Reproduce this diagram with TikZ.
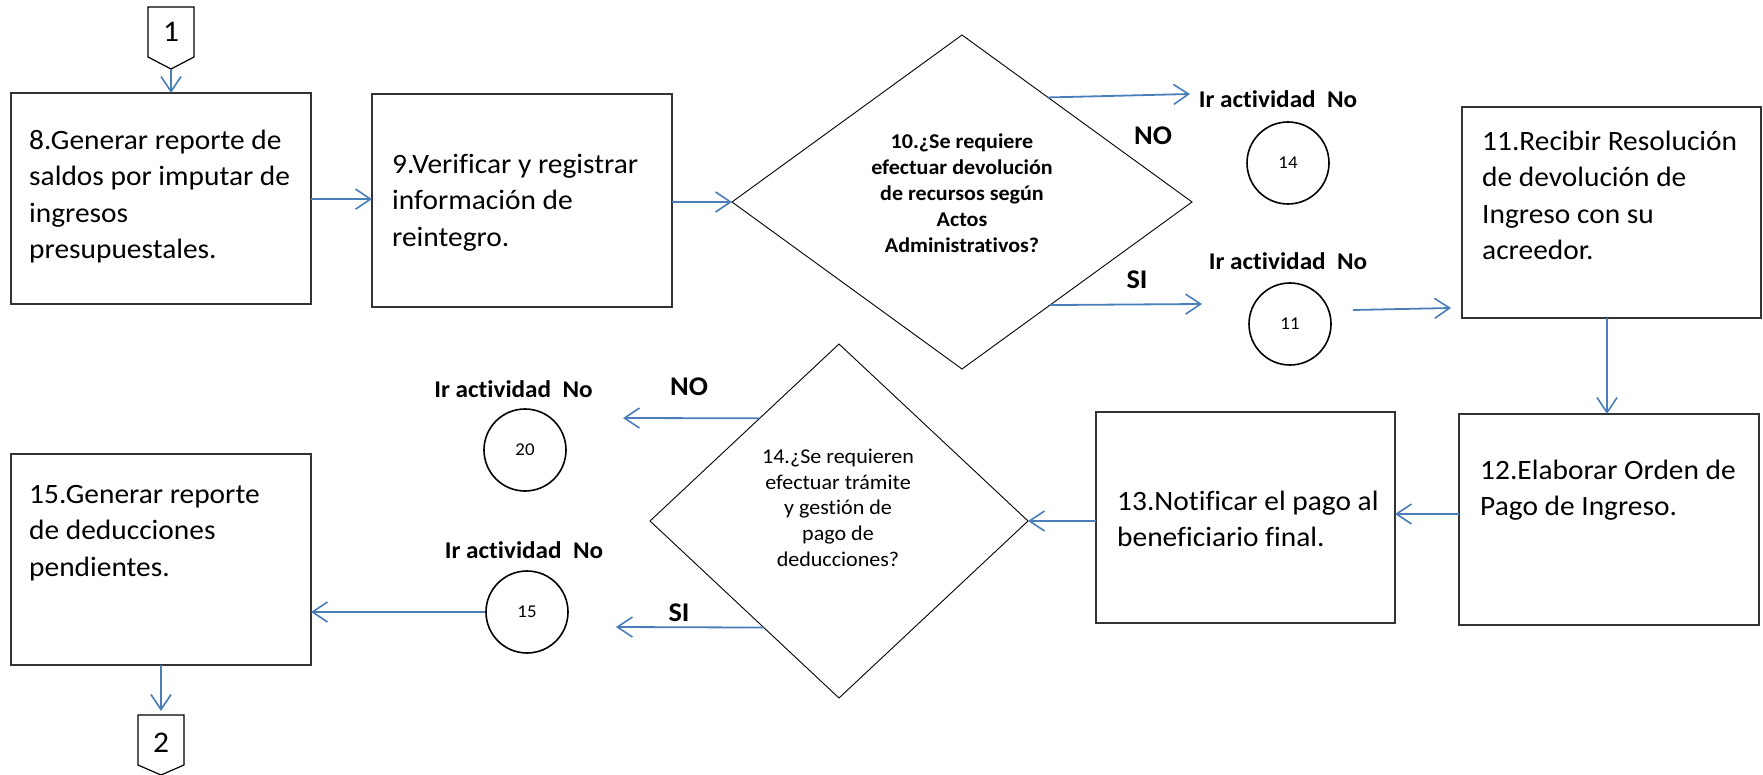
\documentclass[tikz,border=0pt]{standalone}
\usepackage{fontspec}
\setmainfont{Carlito}[FakeStretch=1.05,Ligatures=NoCommon]
\usetikzlibrary{arrows.meta,shapes.geometric,calc}
\definecolor{arrowblue}{HTML}{4A7EBB}
\begin{document}
\begin{tikzpicture}[x=1pt,y=-1pt,
  box/.style={draw=black!80, line width=1.3pt, inner sep=0pt, outer sep=0pt, minimum width=300pt, minimum height=211pt},
  dia/.style={diamond, draw=black, line width=0.9pt, inner sep=0pt, outer sep=0pt},
  circ/.style={circle, draw=black, line width=1.6pt, minimum size=82pt, inner sep=0pt, font=\fontsize{18}{20}\selectfont},
  flow/.style={draw=arrowblue, line width=1.8pt, -{Straight Barb[length=15pt,width=20pt,line width=1.6pt]}},
  btxt/.style={anchor=north west, inner sep=0pt, align=left, font=\fontsize{28}{36.5}\selectfont},
  dtxt/.style={anchor=north, inner sep=0pt, align=center},
  golab/.style={anchor=base, inner sep=0pt, font=\bfseries\fontsize{24}{28}\selectfont},
  lab/.style={anchor=base, inner sep=0pt, font=\bfseries\fontsize{27}{30}\selectfont},
  offpage/.style={draw=black, line width=1.2pt},
  cnum/.style={anchor=base, inner sep=0pt, font=\fontsize{30}{34}\selectfont}]
\useasboundingbox (0,0) rectangle (1763,775);

% off-page connector 1
\draw[offpage] (148,7) -- (194,7) -- (194,57) -- (171,69) -- (148,57) -- cycle;
\node[cnum] (k1) at (171,42) {1};
\coordinate (p1) at (171,69);

% boxes
\node[box] (b8) at (161,198.5) {};
\node[btxt] (t8) at (29,125) {\rule{0pt}{24pt}8.Generar reporte de\\saldos por imputar de\\ingresos\\presupuestales.};
\node[box, minimum height=213pt] (b9) at (522,200.5) {};
\node[btxt] (t9) at (392,149) {\rule{0pt}{24pt}9.Verificar y registrar\\información de\\reintegro.};
\node[box, minimum width=299pt] (b11) at (1611.5,212.5) {};
\node[btxt] (t11) at (1482,126) {\rule{0pt}{24pt}11.Recibir Resolución\\de devolución de\\Ingreso con su\\acreedor.};
\node[box] (b12) at (1609,519.5) {};
\node[btxt] (t12) at (1480,455) {\rule{0pt}{24pt}12.Elaborar Orden de\\Pago de Ingreso.};
\node[box, minimum width=299pt] (b13) at (1245.5,517.5) {};
\node[btxt] (t13) at (1117,486) {\rule{0pt}{24pt}13.Notificar el pago al\\beneficiario final.};
\node[box] (b15) at (161,559.5) {};
\node[btxt] (t15) at (29,479) {\rule{0pt}{24pt}15.Generar reporte\\de deducciones\\pendientes.};

% decisions
\node[dia, minimum width=460pt, minimum height=334pt] (d10) at (962,202) {};
\node[dtxt, font=\bfseries\fontsize{21}{26}\selectfont] (t10) at (962,130) {\rule{0pt}{18pt}10.¿Se requiere\\efectuar devolución\\de recursos según\\Actos\\Administrativos?};
\node[dia, minimum width=378pt, minimum height=354pt] (d14) at (839,521) {};
\node[dtxt, font=\fontsize{21}{25.8}\selectfont] (t14) at (838,445) {\rule{0pt}{18pt}14.¿Se requieren\\efectuar trámite\\y gestión de\\pago de\\deducciones?};

% go-to circles
\node[golab] (g14) at (1278,108) {Ir actividad\ \ No};
\node[circ] (c14) at (1288,163) {14};
\node[golab] (g11) at (1288,270) {Ir actividad\ \ No};
\node[circ] (c11) at (1290,324) {11};
\node[golab] (g20) at (513.5,397) {Ir actividad\ \ No};
\node[circ] (c20) at (525,450) {20};
\node[golab] (g15) at (524,558) {Ir actividad\ \ No};
\node[circ] (c15) at (527,612) {15};

% branch labels
\node[lab] (no1) at (1153,145) {NO};
\node[lab] (si1) at (1137,289) {SI};
\node[lab] (no2) at (689,395) {NO};
\node[lab] (si2) at (679,621) {SI};

% off-page connector 2
\draw[offpage] (138,715) -- (184,715) -- (184,765) -- (161,775) -- (138,765) -- cycle;
\node[cnum] (k2) at (161,752) {2};
\coordinate (p2) at (161,715);

% free ends
\coordinate (e1) at (1190,94);
\coordinate (e2) at (1202,304);
\coordinate (s3) at (1353,310);
\coordinate (e3) at (1451,308);
\coordinate (e4) at (623,418);
\coordinate (e5) at (616,627);

% connectors
\draw[flow] (p1) -- (p1 |- b8.north);
\draw[flow] ([yshift=-0.6pt]b8.east) -- ([yshift=-0.6pt]b8.east -| b9.west);
\draw[flow] (b9.east |- d10.west) -- (d10.west);
\draw[flow] ($(d10.north)!0.374!(d10.east)$) -- (e1);
\draw[flow] ($(d10.south)!0.383!(d10.east)$) -- (e2);
\draw[flow] (s3) -- (e3);
\draw[flow] ([xshift=-4.5pt]b11.south) -- ([xshift=-4.5pt]b11.south |- b12.north);
\draw[flow] ([yshift=5.5pt]b12.west) -- ([yshift=5.5pt]b12.west -| b13.east);
\draw[flow] (b13.west |- d14.east) -- (d14.east);
\draw[flow] ($(d14.north)!0.42!(d14.west)$) -- (e4);
\draw[flow] ($(d14.south)!0.398!(d14.west)$) -- (e5);
\draw[flow] (c15.west) -- (c15.west -| b15.east);
\draw[flow] (b15.south) -- ([yshift=4pt]p2);
\end{tikzpicture}
\end{document}
